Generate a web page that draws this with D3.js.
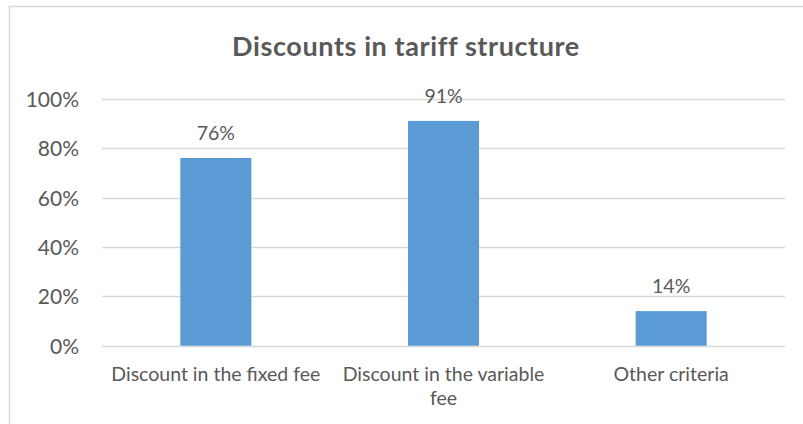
<!DOCTYPE html>
<html>
<head>
<meta charset="utf-8">
<script src="https://cdn.jsdelivr.net/npm/d3@7"></script>
<style>
  html, body { margin: 0; padding: 0; background: #fff; }
  svg { display: block; }
  text { font-family: Lato, "Open Sans", sans-serif; fill: #595959; }
</style>
</head>
<body>
<svg id="chart" width="803" height="424"></svg>
<script>
const categories = ["Discount in the fixed fee", "Discount in the variable fee", "Other criteria"];
const values = [76, 91, 14];
const yTicks = [0, 20, 40, 60, 80, 100];
const chartTitle = "Discounts in tariff structure";

const svg = d3.select("#chart");
const W = 803, H = 424;
const plot = { left: 102, right: 785, top: 98.7, bottom: 345.7 };

// outer frame of the chart area
svg.append("rect")
  .attr("x", 9.5).attr("y", 6.5)
  .attr("width", W + 20).attr("height", H + 20)
  .attr("fill", "#fff").attr("stroke", "#d9d9d9").attr("stroke-width", 1.5);

const x = d3.scaleBand()
  .domain(categories)
  .range([plot.left, plot.right])
  .paddingInner(0.688)
  .paddingOuter(0.344);

const y = d3.scaleLinear().domain([0, 100]).range([plot.bottom, plot.top]);

// horizontal gridlines
svg.append("g")
  .selectAll("line")
  .data(yTicks)
  .join("line")
  .attr("x1", plot.left).attr("x2", plot.right)
  .attr("y1", d => Math.round(y(d)) + 0.5).attr("y2", d => Math.round(y(d)) + 0.5)
  .attr("stroke", "#d9d9d9").attr("stroke-width", 1.5);

// y axis labels
const yAxis = d3.axisLeft(y).tickValues(yTicks).tickFormat(d => d + "%").tickSize(0).tickPadding(0);
const gy = svg.append("g").attr("transform", `translate(79,0)`).call(yAxis);
gy.select(".domain").remove();
gy.selectAll("text")
  .attr("font-size", 21)
  .attr("font-family", "Lato")
  .attr("fill", "#595959")
  .attr("dy", "0.36em");

// bars
svg.append("g")
  .selectAll("rect")
  .data(values)
  .join("rect")
  .attr("x", (d, i) => x(categories[i]))
  .attr("width", x.bandwidth())
  .attr("y", d => y(d))
  .attr("height", d => y(0) - y(d))
  .attr("fill", "#5b9bd5");

// value labels above bars
svg.append("g")
  .selectAll("text")
  .data(values)
  .join("text")
  .attr("x", (d, i) => x(categories[i]) + x.bandwidth() / 2)
  .attr("y", d => y(d) - 18)
  .attr("text-anchor", "middle")
  .attr("font-size", 19.5)
  .text(d => d + "%");

// category labels, wrapped to the band step
const maxLabelWidth = x.step() - 6;
const catG = svg.append("g");
categories.forEach(cat => {
  const cx = x(cat) + x.bandwidth() / 2;
  const t = catG.append("text")
    .attr("x", cx)
    .attr("y", 381)
    .attr("text-anchor", "middle")
    .attr("font-size", 19.5);
  const words = cat.split(" ");
  let line = [];
  let tspan = t.append("tspan").attr("x", cx).attr("dy", 0);
  words.forEach(w => {
    line.push(w);
    tspan.text(line.join(" "));
    if (tspan.node().getComputedTextLength() > maxLabelWidth && line.length > 1) {
      line.pop();
      tspan.text(line.join(" "));
      line = [w];
      tspan = t.append("tspan").attr("x", cx).attr("dy", 24).text(w);
    }
  });
});

// title
svg.append("text")
  .attr("x", 406)
  .attr("y", 56)
  .attr("text-anchor", "middle")
  .attr("font-size", 27)
  .attr("letter-spacing", 0.6)
  .attr("font-weight", "bold")
  .text(chartTitle);
</script>
</body>
</html>
